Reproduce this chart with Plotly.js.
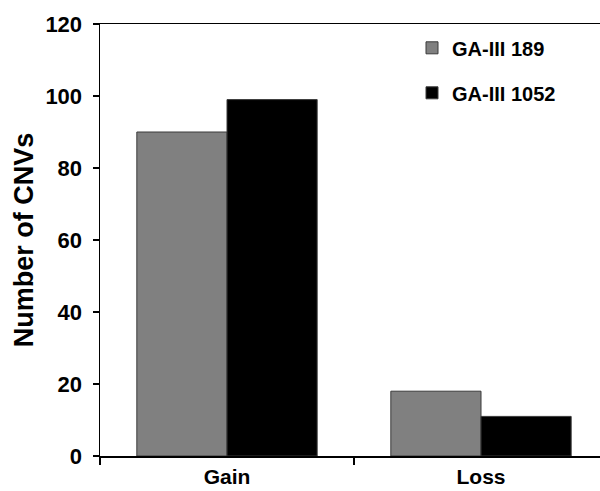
<!DOCTYPE html>
<html><head><meta charset="utf-8">
<script src="https://cdn.plot.ly/plotly-3.0.1.min.js"></script>
<style>html,body{margin:0;padding:0;overflow:hidden;background:#fff}</style>
</head><body>
<div id="chart" style="width:600px;height:491px"></div>
<script>
var categories = ["Gain", "Loss"];
var seriesNames = ["GA-III 189", "GA-III 1052"];
var ga189 = [90, 18];
var ga1052 = [99, 11];
var yTicks = [0, 20, 40, 60, 80, 100, 120];

var font = "Arial, 'Liberation Sans', sans-serif";
var traces = [
  {type: "bar", name: seriesNames[0], x: categories, y: ga189, legendgroup: "a",
   marker: {color: "#808080", line: {color: "#3a3a3a", width: 1}}},
  {type: "bar", name: seriesNames[1], x: categories, y: ga1052, legendgroup: "b",
   marker: {color: "#000000", line: {color: "#3a3a3a", width: 1}}}
];
var layout = {
  width: 600, height: 491,
  margin: {l: 100, r: 0, t: 24, b: 35},
  paper_bgcolor: "#fff", plot_bgcolor: "#fff",
  barmode: "group", bargap: 0.29, bargroupgap: 0,
  font: {family: font, color: "#000"},
  showlegend: true,
  legend: {x: 0.624, xanchor: "left", y: 0.99, yanchor: "top", bgcolor: "rgba(0,0,0,0)",
           font: {family: font, size: 20, color: "#000", weight: "bold"}, traceorder: "grouped", tracegroupgap: 16},
  xaxis: {type: "category", range: [-0.5, 1.4685], showline: true, linecolor: "#000", linewidth: 1.5,
          mirror: true, ticks: "outside", tickson: "boundaries", ticklen: 7, tickcolor: "#000", tickwidth: 1.5,
          showgrid: false, zeroline: false, fixedrange: true, ticklabelstandoff: 1,
          tickfont: {family: font, size: 21, color: "#000", weight: "bold"}},
  yaxis: {range: [0, 120], tickvals: yTicks, showline: true, linecolor: "#000", linewidth: 1.5,
          ticks: "outside", ticklen: 6, tickcolor: "#000", tickwidth: 1.5,
          showgrid: false, zeroline: false, ticklabelstandoff: 6,
          tickfont: {family: font, size: 22, color: "#000", weight: "bold"},
          title: {text: "Number of CNVs", standoff: 4, font: {family: font, size: 27, color: "#000", weight: "bold"}}}
};
Plotly.newPlot("chart", traces, layout, {staticPlot: true, displayModeBar: false});
</script>
</body></html>
